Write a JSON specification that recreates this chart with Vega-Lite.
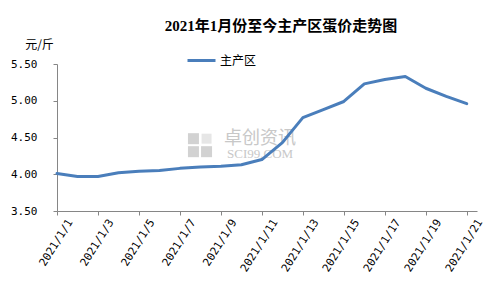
{
  "$schema": "https://vega.github.io/schema/vega-lite/v6.json",
  "width": 420,
  "height": 147,
  "autosize": {"type": "none"},
  "padding": {"left": 57, "top": 64, "right": 15, "bottom": 77},
  "background": "white",
  "title": {
    "text": "2021年1月份至今主产区蛋价走势图",
    "font": "Liberation Serif, Noto Sans CJK SC",
    "fontSize": 15,
    "fontWeight": "bold",
    "color": "#000000",
    "anchor": "middle",
    "dx": 14,
    "offset": 4
  },
  "config": {
    "view": {"stroke": null},
    "axis": {
      "grid": false,
      "domainColor": "#868686",
      "tickColor": "#868686",
      "tickSize": 4,
      "labelOverlap": false,
      "labelSeparation": -50,
      "labelBound": false,
      "labelFlush": false,
      "labelFont": "DejaVu Sans Mono",
      "labelFontSize": 11,
      "labelColor": "#000000"
    }
  },
  "resolve": {"axis": {"x": "independent", "y": "independent"}},
  "layer": [
    {
      "data": {"values": [{"t": 1610034624000, "v": 4.484}, {"t": 1610034624000, "v": 4.307}, {"t": 1610089920000, "v": 4.307}]},
      "mark": {"type": "point", "shape": "square", "filled": true, "size": 121, "opacity": 1, "color": "#d2d2d2"},
      "encoding": {
        "x": {"field": "t", "type": "temporal", "axis": null},
        "y": {"field": "v", "type": "quantitative", "axis": null}
      }
    },
    {
      "data": {"values": [{"t": 1610089920000, "v": 4.484}]},
      "mark": {"type": "point", "shape": "square", "filled": true, "size": 100, "opacity": 1, "color": "#e6e6e6"},
      "encoding": {
        "x": {"field": "t", "type": "temporal", "axis": null},
        "y": {"field": "v", "type": "quantitative", "axis": null}
      }
    },
    {
      "data": {"values": [{"t1": "卓创资讯"}]},
      "mark": {"type": "text", "font": "Noto Sans CJK SC", "fontSize": 18, "color": "#c8c8c8", "align": "center", "baseline": "middle"},
      "encoding": {
        "x": {"datum": 1610315424000, "type": "temporal", "axis": null},
        "y": {"datum": 4.477, "type": "quantitative", "axis": null},
        "text": {"field": "t1"}
      }
    },
    {
      "data": {"values": [{"t2": "SCI99.COM"}]},
      "mark": {"type": "text", "font": "Liberation Serif", "fontSize": 13, "color": "#c8c8c8", "align": "center", "baseline": "middle"},
      "encoding": {
        "x": {"datum": 1610315424000, "type": "temporal", "axis": null},
        "y": {"datum": 4.275, "type": "quantitative", "axis": null},
        "text": {"field": "t2"}
      }
    },
    {
      "data": {
        "values": [
          {"date": "2021-01-01", "price": 4.01, "series": "主产区"},
          {"date": "2021-01-02", "price": 3.97, "series": "主产区"},
          {"date": "2021-01-03", "price": 3.97, "series": "主产区"},
          {"date": "2021-01-04", "price": 4.02, "series": "主产区"},
          {"date": "2021-01-05", "price": 4.04, "series": "主产区"},
          {"date": "2021-01-06", "price": 4.05, "series": "主产区"},
          {"date": "2021-01-07", "price": 4.08, "series": "主产区"},
          {"date": "2021-01-08", "price": 4.10, "series": "主产区"},
          {"date": "2021-01-09", "price": 4.11, "series": "主产区"},
          {"date": "2021-01-10", "price": 4.13, "series": "主产区"},
          {"date": "2021-01-11", "price": 4.20, "series": "主产区"},
          {"date": "2021-01-12", "price": 4.43, "series": "主产区"},
          {"date": "2021-01-13", "price": 4.77, "series": "主产区"},
          {"date": "2021-01-14", "price": 4.88, "series": "主产区"},
          {"date": "2021-01-15", "price": 4.99, "series": "主产区"},
          {"date": "2021-01-16", "price": 5.23, "series": "主产区"},
          {"date": "2021-01-17", "price": 5.29, "series": "主产区"},
          {"date": "2021-01-18", "price": 5.33, "series": "主产区"},
          {"date": "2021-01-19", "price": 5.17, "series": "主产区"},
          {"date": "2021-01-20", "price": 5.06, "series": "主产区"},
          {"date": "2021-01-21", "price": 4.96, "series": "主产区"}
        ]
      },
      "mark": {"type": "line", "strokeWidth": 3, "strokeCap": "round", "strokeJoin": "round"},
      "encoding": {
        "x": {
          "field": "date",
          "type": "temporal",
          "scale": {"type": "utc", "domain": [1609459200000, 1611230400000], "nice": false},
          "axis": {
            "title": null,
            "values": [1609459200000, 1609632000000, 1609804800000, 1609977600000, 1610150400000, 1610323200000, 1610496000000, 1610668800000, 1610841600000, 1611014400000, 1611187200000],
            "labelExpr": "utcFormat(datum.value, '%Y/%-m/%-d')",
            "labelAngle": -58,
            "labelAlign": "right",
            "labelBaseline": "middle",
            "labelOffset": 13,
            "labelPadding": 5
          }
        },
        "y": {
          "field": "price",
          "type": "quantitative",
          "scale": {"domain": [3.5, 5.5], "nice": false, "zero": false},
          "axis": {
            "title": "元/斤",
            "titleAngle": 0,
            "titleX": -18,
            "titleY": -16,
            "titleAlign": "center",
            "titleBaseline": "alphabetic",
            "titleFont": "Noto Sans CJK SC",
            "titleFontSize": 12,
            "titleFontWeight": "normal",
            "titleColor": "#000000",
            "values": [3.5, 4, 4.5, 5, 5.5],
            "labelExpr": "format(datum.value, '.2f')",
            "labelPadding": 16
          }
        },
        "color": {
          "field": "series",
          "type": "nominal",
          "scale": {"range": ["#4a7ebb"]},
          "legend": {
            "title": null,
            "orient": "none",
            "legendX": 129,
            "legendY": -19,
            "padding": 0,
            "symbolType": "stroke",
            "symbolStrokeWidth": 3,
            "symbolSize": 784,
            "labelFont": "Noto Sans CJK SC",
            "labelFontSize": 12,
            "labelColor": "#000000",
            "labelOffset": 3
          }
        }
      }
    }
  ]
}
